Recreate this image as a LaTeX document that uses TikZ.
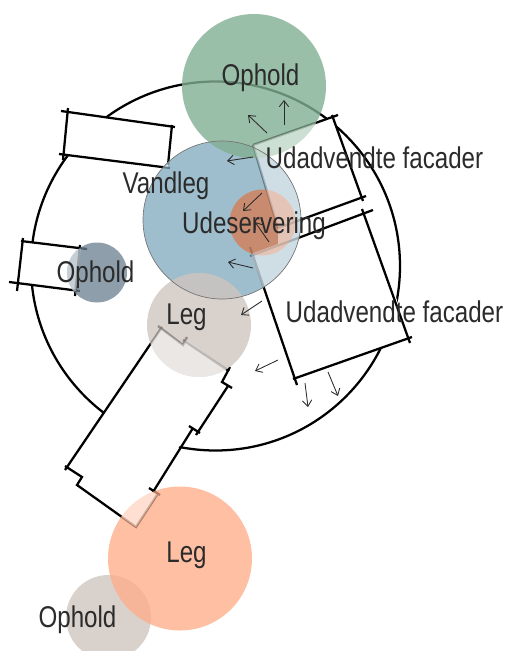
\documentclass[tikz,border=0pt]{standalone}
\usepackage{fontspec}
\setmainfont[FakeStretch=0.805]{Liberation Sans}
\usetikzlibrary{arrows.meta}
\definecolor{grass}{HTML}{81AF92}
\definecolor{water}{HTML}{87AEC0}
\definecolor{sand}{HTML}{CFC5BF}
\definecolor{peach}{HTML}{FFAF8C}
\definecolor{terra}{HTML}{D47E59}
\definecolor{slate}{HTML}{728796}
\definecolor{ink}{HTML}{2B2B2B}

\newcommand{\blocks}[1]{
    \fill[#1] (66,112) -- (172,127) -- (168,167) -- (62,155) -- cycle;
    \fill[#1] (22,241) -- (81,249) -- (76,291) -- (18,284) -- cycle;
    \fill[#1] (253,145) -- (333,117) -- (362,197) -- (300,219) -- (300,236) -- (371,212) -- (408,338) -- (295,378) -- (251,254) -- (278,244) -- (278,228) -- cycle;
    \fill[#1] (161,329) -- (183,345) -- (186,340) -- (229,370) -- (222,382) -- (230,388) -- (195,432) -- (190,428) -- (153,492) -- (157,495) -- (136,527) -- (77,485) -- (82,477) -- (67,468) -- cycle;
}
\newcommand{\walls}[1]{
    \draw[wall, #1] (61,111) -- (175,127);
    \draw[wall, #1] (68,108) -- (63,160);
    \draw[wall, #1] (59,154) -- (170,168);
    \draw[wall, #1] (172,125) -- (168,165);
    \draw[wall, #1] (21,241) -- (87,249);
    \draw[wall, #1] (23,238) -- (17,291);
    \draw[wall, #1] (9,282) -- (80,291);
    \draw[wall, #1] (80,245) -- (75,296);
    \draw[wall, #1] (253,145) -- (338,115);
    \draw[wall, #1] (332,115) -- (363,201);
    \draw[wall, #1] (278,228) -- (366,196);
    \draw[wall, #1] (253,145) -- (278,228);
    \draw[wall, #1] (250,256) -- (373,210);
    \draw[wall, #1] (250,247) -- (297,385);
    \draw[wall, #1] (362,209) -- (410,343);
    \draw[wall, #1] (293,379) -- (412,337);
    \draw[wall, #1] (65,470) -- (162,327);
    \draw[wall, #1] (158,326) -- (183,345) -- (187,337);
    \draw[wall, #1] (183,340) -- (229,371);
    \draw[wall, #1] (230,367) -- (222,382) -- (232,388);
    \draw[wall, #1] (228,386) -- (196,435);
    \draw[wall, #1] (189,426) -- (200,433);
    \draw[wall, #1] (193,428) -- (153,492);
    \draw[wall, #1] (149,488) -- (160,495);
    \draw[wall, #1] (157,495) -- (136,527) -- (77,485) -- (82,477) -- (65,466);
}

\begin{document}
\begin{tikzpicture}[
    x = 0.75pt,
    y = -0.75pt,
    >={Straight Barb[length=4.5pt,width=7pt]},
    ]

    \tikzstyle{zone}=[
    circle,
    inner sep = 0pt,
    opacity = 0.8,
    ]
    \tikzstyle{wall}=[
    draw = black,
    line width = 1.7pt,
    ]
    \tikzstyle{flow}=[
    ->,
    draw = ink,
    line width = 0.65pt,
    ]
    \tikzstyle{label}=[
    text = ink,
    font = \fontsize{22.5}{22.5}\selectfont,
    inner sep = 0pt,
    ]

    \useasboundingbox (0,0) rectangle (508,651);

    \draw[line width = 1.7pt] (215.5,266) circle (184.5);

    \blocks{white}
    \walls{}

    \node[zone, fill = water, minimum size = 118.5pt] (vandleg) at (222,220) {};
    \node[zone, fill = grass, minimum size = 108pt] (ophold1) at (254,86) {};
    \node[zone, fill = terra, minimum size = 49.5pt] (udeservering) at (262.5,222.5) {};
    \node[zone, fill = slate, minimum size = 45pt] (ophold2) at (97,272.5) {};
    \node[zone, fill = sand, minimum size = 78pt] (leg1) at (199,325) {};
    \node[zone, fill = sand, minimum size = 63.75pt] (ophold3) at (108.5,617.5) {};
    \node[zone, fill = peach, minimum size = 108pt] (leg2) at (180,558.5) {};

    \begin{scope}
        \clip (vandleg.center) circle (59.25pt) (ophold1.center) circle (54pt)
              (udeservering.center) circle (24.75pt) (ophold2.center) circle (22.5pt)
              (leg1.center) circle (39pt) (leg2.center) circle (54pt);
        \blocks{white, opacity = 0.5}
        \walls{opacity = 0.1}
    \end{scope}

    \draw[black!55, line width = 0.5pt] (vandleg.center) circle (59.25pt);

    \draw[flow] (267,133) -- (248,115);
    \draw[flow] (284,125) -- (284,100);
    \draw[flow] (253,157) -- (227,161);
    \draw[flow] (262,193) -- (243,211);
    \draw[flow] (269,242) -- (255,222);
    \draw[flow] (253,268) -- (228,262);
    \draw[flow] (262,301) -- (241,315);
    \draw[flow] (278,360) -- (255,371);
    \draw[flow] (305,383) -- (308,407);
    \draw[flow] (328,372) -- (338,396);

    \node[label] (t1) at (260.5,78) {Ophold};
    \node[label] (t2) at (374.5,158) {Udadvendte facader};
    \node[label] (t3) at (166,186) {Vandleg};
    \node[label] (t4) at (254,226) {Udeservering};
    \node[label] (t5) at (95.5,275) {Ophold};
    \node[label] (t6) at (186.5,317) {Leg};
    \node[label] (t7) at (394.5,312) {Udadvendte facader};
    \node[label] (t8) at (186.5,555) {Leg};
    \node[label] (t9) at (77.5,620) {Ophold};
\end{tikzpicture}
\end{document}
